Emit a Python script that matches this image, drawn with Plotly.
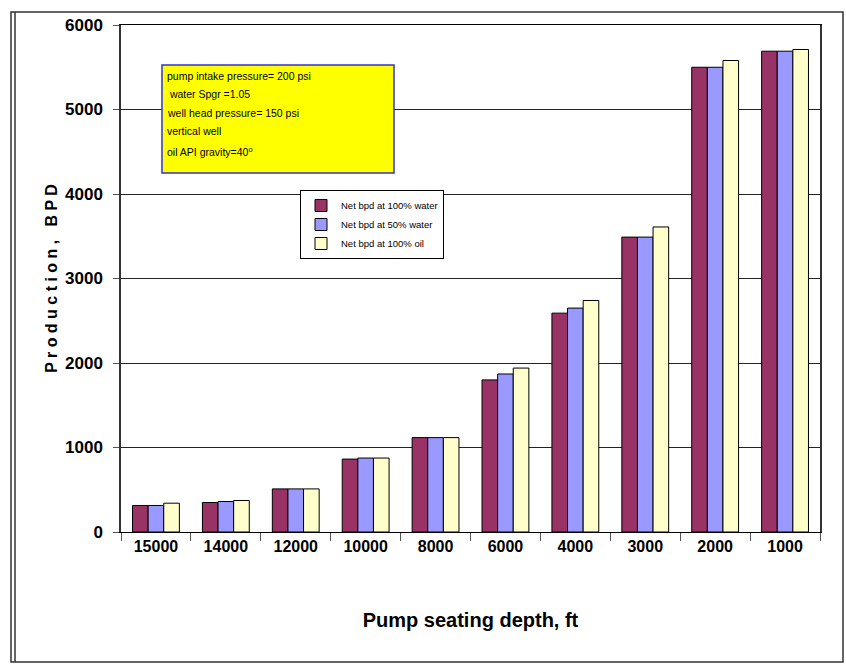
import plotly.graph_objects as go

depths = ["15000", "14000", "12000", "10000", "8000", "6000", "4000", "3000", "2000", "1000"]
water100 = [314, 349, 510, 863, 1117, 1800, 2590, 3490, 5500, 5690]
water50 = [314, 361, 510, 875, 1117, 1870, 2650, 3490, 5500, 5690]
oil100 = [341, 373, 510, 875, 1117, 1940, 2740, 3610, 5580, 5710]
series_names = ["Net bpd at 100% water", "Net bpd at 50% water", "Net bpd at 100% oil"]
series_colors = ["#993366", "#9999FF", "#FFFFCC"]
note_lines = [
    "pump intake pressure= 200 psi",
    " water Spgr =1.05",
    "well head pressure= 150 psi",
    "vertical well",
    "oil API gravity=40<sup>o</sup>",
]

W, H = 846, 665
L, R, T, B = 121, 820, 25, 532
pw, ph = R - L, B - T

def px(x):
    return (x - L) / pw

def py(y):
    return (B - y) / ph

FONT = "Liberation Sans Narrow, Arial Narrow, Liberation Sans, Arial, sans-serif"

fig = go.Figure()
for name, vals, col in zip(series_names, [water100, water50, oil100], series_colors):
    fig.add_trace(go.Bar(
        x=depths, y=vals, name=name,
        marker=dict(color=col, line=dict(color="#000000", width=1)),
    ))

shapes = [
    dict(type="rect", xref="paper", yref="paper",
         x0=px(11), x1=px(843), y0=py(662), y1=py(12),
         line=dict(color="#333333", width=1.5), layer="below"),
    dict(type="line", xref="paper", yref="paper",
         x0=px(15), x1=px(15), y0=py(662), y1=py(12),
         line=dict(color="#333333", width=1.5), layer="below"),
    dict(type="rect", xref="paper", yref="paper",
         x0=px(162), x1=px(394), y0=py(173), y1=py(65),
         fillcolor="#FFFF00", line=dict(color="#3333CC", width=1.5), layer="above"),
]

annotations = []
line_y = [76, 94, 113, 131, 151]
for txt, yy in zip(note_lines, line_y):
    annotations.append(dict(
        x=px(165), y=py(yy), xref="paper", yref="paper",
        xanchor="left", yanchor="middle", showarrow=False,
        text=txt, font=dict(family=FONT, size=10.5, color="#000000"),
    ))

fig.update_layout(
    width=W, height=H,
    margin=dict(l=L, r=W - R, t=T, b=H - B),
    paper_bgcolor="white", plot_bgcolor="white",
    barmode="group", bargap=0.33, bargroupgap=0,
    shapes=shapes, annotations=annotations,
    font=dict(family=FONT, color="#000000"),
    legend=dict(
        x=px(300), y=py(190), xanchor="left", yanchor="top",
        bgcolor="white", bordercolor="#000000", borderwidth=1,
        font=dict(family=FONT, size=9.5, color="#000000"),
        itemwidth=30, tracegroupgap=0,
    ),
    xaxis=dict(
        type="category",
        showline=True, linecolor="#000000", linewidth=1, mirror=True,
        ticks="outside", tickson="boundaries", ticklen=8, tickcolor="#555555",
        showgrid=False,
        tickfont=dict(family=FONT, size=16, color="#000000", weight="bold"),
        title=dict(text="<b>Pump seating depth, ft</b>",
                   font=dict(family=FONT, size=20, color="#000000"), standoff=58),
    ),
    yaxis=dict(
        range=[0, 6000], dtick=1000,
        showline=True, linecolor="#333333", linewidth=1.5, mirror=True,
        ticks="outside", ticklen=6, tickcolor="#555555",
        showgrid=True, gridcolor="#222222", gridwidth=1,
        zeroline=False,
        tickfont=dict(family=FONT, size=17, color="#000000", weight="bold"),
        ticklabelstandoff=7,
        title=dict(text="<b>P r o d u c t i o n ,   B P D</b>",
                   font=dict(family=FONT, size=16, color="#000000"), standoff=3),
    ),
)

fig.write_html("out.html", config={"displayModeBar": False},
               post_script="document.body.style.margin='0';")
